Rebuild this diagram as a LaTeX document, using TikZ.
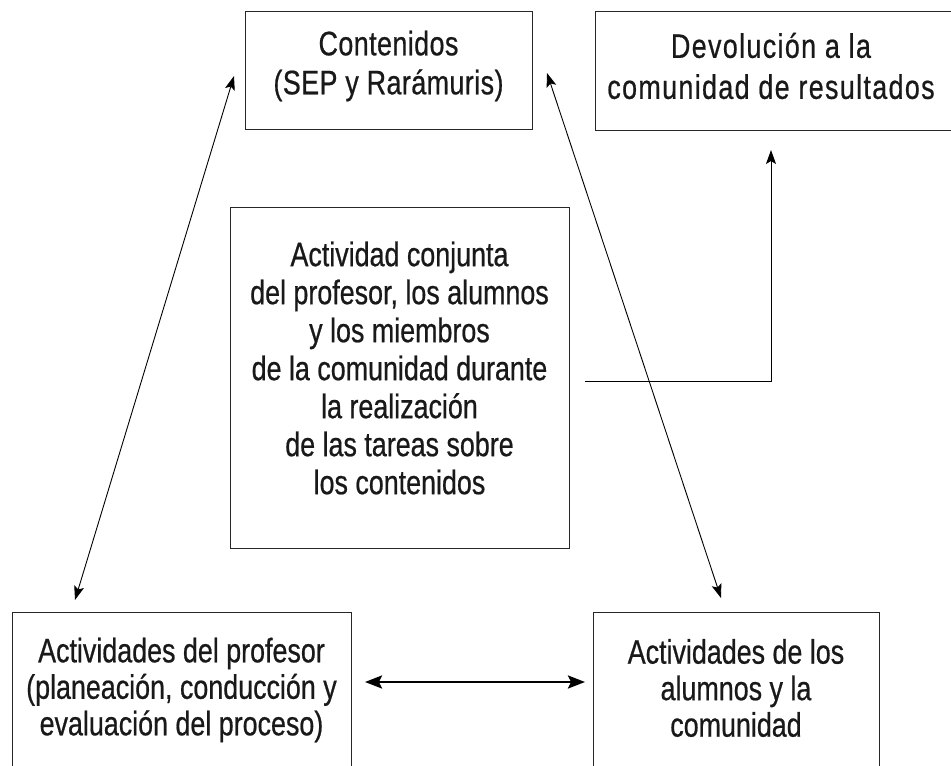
\documentclass[tikz,border=0pt]{standalone}
\usepackage{fontspec}
\setmainfont{Liberation Sans}[FakeStretch=0.79, FakeBold=0.6]
\newfontfamily\devfont{Liberation Sans}[FakeStretch=0.79, FakeBold=0.6, LetterSpace=4]
\newfontfamily\contfont{Liberation Sans}[FakeStretch=0.79, FakeBold=0.6, LetterSpace=1.3]
\usetikzlibrary{arrows.meta}
\begin{document}
\begin{tikzpicture}[x=1pt,y=-1pt,
  box/.style={draw=black!85, line width=1pt, inner sep=0pt},
  lbl/.style={align=center, font=\fontsize{34}{38}\selectfont, inner sep=0pt, text=black!90},
  tipthin/.style={-{Stealth[length=14pt,width=10pt,inset=3pt]}},
  conn/.style={line width=0.9pt, {Stealth[length=14pt,width=10pt,inset=3pt]}-{Stealth[length=14pt,width=10pt,inset=3pt]}},
  connthick/.style={line width=2.4pt, {Stealth[length=17pt,width=13pt,inset=3pt]}-{Stealth[length=17pt,width=13pt,inset=3pt]}},
]
\useasboundingbox (0,0) rectangle (951,766);
\clip (0,0) rectangle (951,766);

% boxes
\node (cont) [box, minimum width=287pt, minimum height=118pt] at (388.5,70) {};
\node (dev)  [box, minimum width=370pt, minimum height=119pt] at (780,70.5) {};
\node (mid)  [box, minimum width=339pt, minimum height=341pt] at (399.5,377.5) {};
\node (prof) [box, minimum width=339pt, minimum height=178pt] at (181.5,701) {};
\node (alum) [box, minimum width=286pt, minimum height=178pt] at (736,701) {};

% texts
\node (tcont) [lbl, font=\contfont\fontsize{34}{39}\selectfont] at (388.5,66) {Contenidos\\(SEP y Rarámuris)};
\node (tdev)  [lbl, font=\devfont\fontsize{34}{41}\selectfont] at (771,66) {Devolución a la\\comunidad de resultados};
\node (tmid)  [lbl] at (399.5,368) {Actividad conjunta\\del profesor, los alumnos\\y los miembros\\de la comunidad durante\\la realización\\de las tareas sobre\\los contenidos};
\node (tprof) [lbl, font=\fontsize{34}{36.5}\selectfont] at (181.5,690) {Actividades del profesor\\(planeación, conducción y\\evaluación del proceso)};
\node (talum) [lbl, font=\fontsize{34}{36.5}\selectfont] at (736,688) {Actividades de los\\alumnos y la\\comunidad};

% connector end points
\coordinate (c1) at (234,76);
\coordinate (p1) at (75,600);
\coordinate (c2) at (547,73);
\coordinate (a2) at (721,598);
\coordinate (p3) at (365,682);
\coordinate (a3) at (585,682);
\coordinate (m4) at (585,381);
\coordinate (d4) at (771,150);

\draw[conn] (c1) -- (p1);
\draw[conn] (c2) -- (a2);
\draw[connthick] (p3) -- (a3);
\draw[line width=0.9pt, tipthin] (m4) -| (d4);
\end{tikzpicture}
\end{document}
